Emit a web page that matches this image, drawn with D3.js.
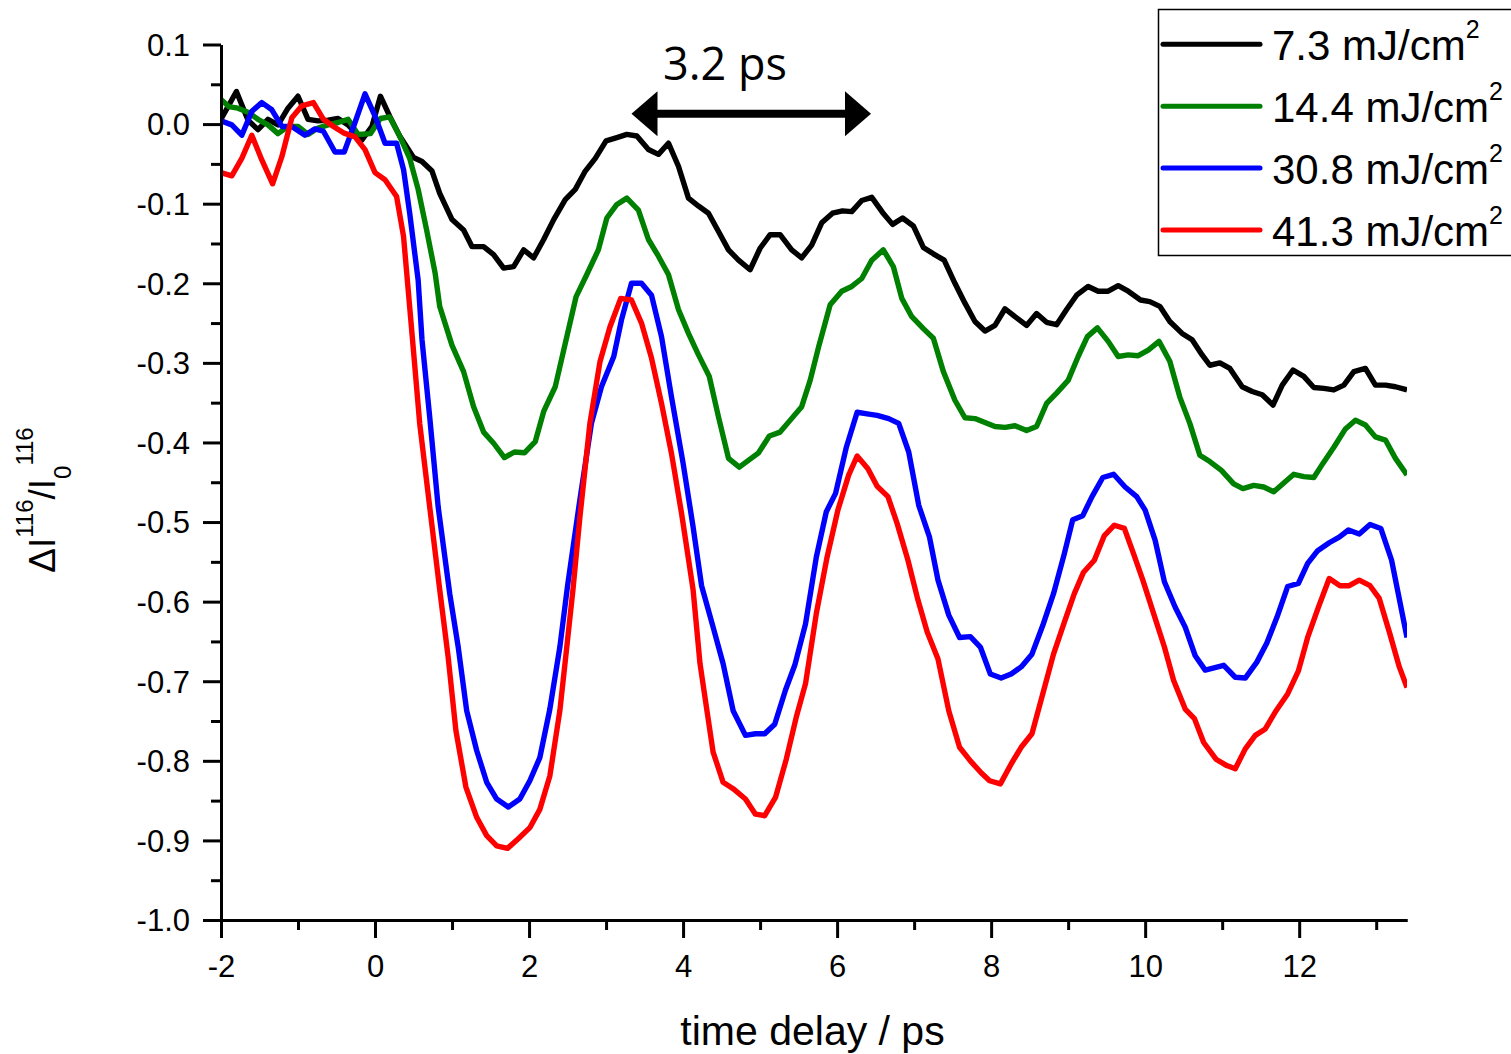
<!DOCTYPE html>
<html><head><meta charset="utf-8">
<script src="https://cdn.jsdelivr.net/npm/d3@7"></script>
<style>body{margin:0;background:#fff;} svg{display:block;}</style>
</head><body>
<script>
// ---- data (time delay in ps, ΔI/I0) ----
const blackT = [-2.00,-1.80,-1.65,-1.52,-1.39,-1.26,-1.13,-1.00,-0.87,-0.74,-0.61,-0.48,-0.35,-0.17,-0.04,0.07,0.19,0.32,0.50,0.61,0.74,0.84,1.00,1.15,1.26,1.41,1.54,1.67,1.80,1.93,2.06,2.19,2.32,2.47,2.60,2.73,2.86,3.00,3.14,3.27,3.40,3.55,3.68,3.81,3.94,4.07,4.20,4.33,4.46,4.59,4.72,4.87,5.00,5.13,5.26,5.41,5.54,5.67,5.80,5.94,6.07,6.19,6.32,6.45,6.59,6.72,6.85,6.99,7.12,7.25,7.39,7.53,7.66,7.79,7.92,8.05,8.18,8.31,8.46,8.59,8.72,8.85,8.98,9.11,9.26,9.39,9.52,9.65,9.78,9.94,10.06,10.19,10.32,10.48,10.61,10.74,10.84,10.97,11.10,11.26,11.39,11.52,11.66,11.78,11.92,12.06,12.19,12.32,12.45,12.58,12.71,12.86,12.99,13.12,13.25,13.40];
const blackY = [0.006,0.041,0.005,-0.007,0.006,-0.001,0.020,0.035,0.006,0.004,0.005,0.007,-0.001,-0.020,-0.003,0.035,0.010,-0.015,-0.042,-0.047,-0.059,-0.087,-0.120,-0.133,-0.154,-0.154,-0.164,-0.181,-0.179,-0.158,-0.168,-0.145,-0.120,-0.095,-0.082,-0.059,-0.043,-0.021,-0.017,-0.013,-0.015,-0.032,-0.038,-0.024,-0.053,-0.093,-0.103,-0.112,-0.135,-0.158,-0.171,-0.183,-0.156,-0.139,-0.139,-0.158,-0.168,-0.152,-0.124,-0.112,-0.109,-0.110,-0.096,-0.092,-0.111,-0.126,-0.118,-0.128,-0.155,-0.163,-0.171,-0.200,-0.225,-0.248,-0.260,-0.253,-0.232,-0.242,-0.253,-0.238,-0.249,-0.252,-0.233,-0.215,-0.204,-0.210,-0.210,-0.203,-0.210,-0.221,-0.223,-0.229,-0.248,-0.263,-0.271,-0.290,-0.303,-0.300,-0.307,-0.330,-0.336,-0.340,-0.353,-0.328,-0.309,-0.317,-0.331,-0.332,-0.334,-0.328,-0.311,-0.307,-0.328,-0.328,-0.330,-0.334];

const greenT = [-2.00,-1.90,-1.78,-1.65,-1.52,-1.39,-1.26,-1.13,-1.00,-0.87,-0.74,-0.61,-0.48,-0.35,-0.22,-0.06,0.07,0.19,0.32,0.45,0.56,0.67,0.78,0.84,1.00,1.15,1.28,1.41,1.54,1.68,1.81,1.94,2.08,2.19,2.34,2.45,2.61,2.75,2.90,3.01,3.14,3.27,3.42,3.55,3.68,3.81,3.94,4.07,4.20,4.34,4.46,4.59,4.73,4.87,4.98,5.12,5.26,5.40,5.54,5.65,5.76,5.91,6.06,6.19,6.32,6.45,6.60,6.73,6.84,6.97,7.12,7.25,7.38,7.53,7.66,7.79,7.92,8.05,8.18,8.31,8.46,8.59,8.72,8.85,9.00,9.13,9.25,9.38,9.52,9.65,9.78,9.91,10.04,10.18,10.32,10.45,10.58,10.71,10.84,10.99,11.15,11.27,11.41,11.54,11.67,11.80,11.93,12.06,12.19,12.31,12.45,12.60,12.73,12.86,12.99,13.12,13.25,13.40];
const greenY = [0.031,0.022,0.020,0.015,0.006,-0.001,-0.012,-0.003,-0.003,-0.013,-0.005,-0.001,0.002,0.006,-0.013,-0.012,0.007,0.009,-0.015,-0.043,-0.082,-0.133,-0.187,-0.229,-0.278,-0.311,-0.355,-0.387,-0.401,-0.419,-0.412,-0.413,-0.399,-0.361,-0.330,-0.284,-0.217,-0.189,-0.158,-0.118,-0.101,-0.093,-0.108,-0.145,-0.166,-0.189,-0.233,-0.263,-0.290,-0.317,-0.368,-0.420,-0.431,-0.421,-0.413,-0.392,-0.387,-0.371,-0.355,-0.322,-0.280,-0.227,-0.210,-0.204,-0.194,-0.171,-0.158,-0.179,-0.219,-0.242,-0.257,-0.269,-0.311,-0.347,-0.369,-0.370,-0.375,-0.380,-0.381,-0.379,-0.385,-0.380,-0.351,-0.338,-0.322,-0.292,-0.267,-0.256,-0.273,-0.292,-0.290,-0.291,-0.284,-0.273,-0.298,-0.343,-0.376,-0.416,-0.424,-0.435,-0.452,-0.458,-0.454,-0.456,-0.462,-0.451,-0.440,-0.443,-0.444,-0.426,-0.406,-0.383,-0.372,-0.378,-0.393,-0.397,-0.420,-0.441];

const blueT = [-2.00,-1.86,-1.73,-1.60,-1.47,-1.34,-1.21,-1.08,-0.91,-0.78,-0.67,-0.52,-0.40,-0.26,-0.13,0.00,0.13,0.28,0.37,0.45,0.56,0.61,0.71,0.82,0.97,1.08,1.19,1.32,1.45,1.58,1.73,1.88,2.01,2.14,2.27,2.40,2.50,2.66,2.81,2.94,3.10,3.20,3.33,3.46,3.59,3.72,3.85,4.00,4.13,4.24,4.39,4.52,4.65,4.81,4.94,5.06,5.19,5.33,5.45,5.59,5.73,5.86,5.98,6.12,6.26,6.39,6.52,6.67,6.80,6.93,7.06,7.20,7.31,7.45,7.59,7.73,7.86,7.99,8.13,8.26,8.39,8.53,8.67,8.81,8.95,9.06,9.19,9.31,9.45,9.59,9.74,9.89,10.00,10.13,10.25,10.39,10.52,10.65,10.78,11.02,11.17,11.30,11.45,11.58,11.71,11.85,11.99,12.11,12.24,12.39,12.52,12.64,12.78,12.92,13.06,13.20,13.40];
const blueY = [0.004,-0.001,-0.014,0.016,0.027,0.018,-0.003,-0.003,-0.014,-0.006,-0.009,-0.035,-0.035,0.002,0.038,0.010,-0.024,-0.024,-0.057,-0.112,-0.196,-0.271,-0.368,-0.481,-0.590,-0.657,-0.737,-0.787,-0.827,-0.848,-0.858,-0.848,-0.825,-0.796,-0.735,-0.657,-0.580,-0.472,-0.376,-0.330,-0.292,-0.246,-0.200,-0.200,-0.215,-0.267,-0.343,-0.426,-0.506,-0.580,-0.632,-0.678,-0.737,-0.768,-0.766,-0.766,-0.754,-0.711,-0.680,-0.628,-0.544,-0.487,-0.464,-0.406,-0.362,-0.364,-0.366,-0.370,-0.376,-0.412,-0.479,-0.519,-0.573,-0.617,-0.645,-0.644,-0.657,-0.691,-0.696,-0.691,-0.682,-0.666,-0.630,-0.590,-0.540,-0.497,-0.492,-0.468,-0.444,-0.440,-0.456,-0.468,-0.485,-0.523,-0.575,-0.607,-0.632,-0.668,-0.686,-0.680,-0.695,-0.696,-0.676,-0.652,-0.620,-0.581,-0.577,-0.552,-0.536,-0.526,-0.519,-0.510,-0.515,-0.503,-0.508,-0.548,-0.645];

const redT = [-2.00,-1.86,-1.73,-1.60,-1.47,-1.33,-1.21,-1.08,-0.95,-0.80,-0.67,-0.54,-0.41,-0.26,-0.13,0.00,0.13,0.28,0.37,0.48,0.58,0.71,0.84,0.95,1.05,1.18,1.32,1.45,1.58,1.72,1.86,2.01,2.14,2.27,2.40,2.49,2.57,2.66,2.79,2.92,3.05,3.19,3.33,3.46,3.59,3.72,3.85,3.98,4.13,4.22,4.31,4.39,4.52,4.65,4.81,4.94,5.06,5.20,5.34,5.47,5.59,5.73,5.87,6.01,6.15,6.26,6.40,6.52,6.66,6.78,6.92,7.05,7.17,7.31,7.45,7.59,7.73,7.87,7.98,8.12,8.26,8.39,8.53,8.67,8.81,8.95,9.08,9.20,9.34,9.47,9.60,9.73,9.85,9.97,10.11,10.25,10.37,10.52,10.64,10.76,10.92,11.06,11.17,11.30,11.43,11.56,11.70,11.85,11.99,12.11,12.25,12.39,12.53,12.65,12.78,12.92,13.04,13.17,13.30,13.40];
const redY = [-0.061,-0.065,-0.043,-0.014,-0.045,-0.075,-0.041,0.008,0.023,0.027,0.006,-0.003,-0.011,-0.016,-0.032,-0.061,-0.070,-0.091,-0.141,-0.263,-0.376,-0.481,-0.585,-0.670,-0.762,-0.833,-0.871,-0.894,-0.907,-0.910,-0.898,-0.884,-0.861,-0.819,-0.737,-0.657,-0.585,-0.494,-0.376,-0.299,-0.255,-0.219,-0.221,-0.250,-0.294,-0.351,-0.414,-0.489,-0.585,-0.678,-0.737,-0.789,-0.827,-0.835,-0.848,-0.867,-0.869,-0.846,-0.798,-0.745,-0.703,-0.615,-0.544,-0.485,-0.441,-0.417,-0.433,-0.455,-0.468,-0.502,-0.548,-0.598,-0.638,-0.672,-0.737,-0.783,-0.800,-0.815,-0.825,-0.829,-0.804,-0.783,-0.766,-0.716,-0.666,-0.626,-0.590,-0.563,-0.548,-0.517,-0.504,-0.508,-0.540,-0.573,-0.615,-0.657,-0.699,-0.735,-0.747,-0.777,-0.798,-0.806,-0.810,-0.785,-0.768,-0.760,-0.737,-0.716,-0.687,-0.645,-0.607,-0.571,-0.580,-0.580,-0.573,-0.580,-0.596,-0.638,-0.682,-0.708];

const seriesLabels = ["7.3 mJ/cm", "14.4 mJ/cm", "30.8 mJ/cm", "41.3 mJ/cm"];
const seriesColors = ["#000000", "#008000", "#0000ff", "#ff0000"];
const xMajorTicks = [-2, 0, 2, 4, 6, 8, 10, 12];
const xMinorTicks = [-1, 1, 3, 5, 7, 9, 11, 13];
const yMajorTicks = [0.1, 0.0, -0.1, -0.2, -0.3, -0.4, -0.5, -0.6, -0.7, -0.8, -0.9, -1.0];
const yTickLabels = ["0.1", "0.0", "-0.1", "-0.2", "-0.3", "-0.4", "-0.5", "-0.6", "-0.7", "-0.8", "-0.9", "-1.0"];
const yMinorTicks = [0.05, -0.05, -0.15, -0.25, -0.35, -0.45, -0.55, -0.65, -0.75, -0.85, -0.95];
const arrowT = [3.33, 6.44];
const arrowY = 0.013;
const arrowLabel = "3.2 ps";

// ---- drawing ----
const W = 1511, H = 1054;
const FONT = "'Liberation Sans', Arial, sans-serif";
const svg = d3.select("body").append("svg").attr("width", W).attr("height", H)
  .style("background", "#fff");

const x = d3.scaleLinear().domain([-2, 13.4]).range([221, 1407]);
const y = d3.scaleLinear().domain([-1.0, 0.1]).range([920, 44.5]);

svg.append("defs").append("clipPath").attr("id", "plotclip")
  .append("rect").attr("x", x(-2)).attr("y", 0).attr("width", x(13.4) - x(-2)).attr("height", y(-1.0));

// series
const seriesT = [blackT, greenT, blueT, redT];
const seriesY = [blackY, greenY, blueY, redY];
const line = d3.line().x(d => x(d[0])).y(d => y(d[1]));
const gLines = svg.append("g").attr("clip-path", "url(#plotclip)");
seriesT.forEach((ts, i) => {
  const pts = ts.map((t, j) => [t, seriesY[i][j]]);
  gLines.append("path").datum(pts).attr("d", line)
    .attr("fill", "none").attr("stroke", seriesColors[i])
    .attr("stroke-width", 5.4).attr("stroke-linejoin", "round");
});

// axes
function styleAxis(g) {
  g.selectAll("path.domain").attr("stroke", "#000").attr("stroke-width", 3);
  g.selectAll(".tick line").attr("stroke", "#000").attr("stroke-width", 3);
  g.selectAll("text").attr("fill", "#000").style("font-family", FONT).style("font-size", "31px");
}
const gxMinor = svg.append("g").attr("transform", `translate(0,${y(-1.0)})`)
  .call(d3.axisBottom(x).tickValues(xMinorTicks).tickSize(10).tickSizeOuter(0).tickFormat(() => ""));
styleAxis(gxMinor);
const gx = svg.append("g").attr("transform", `translate(0,${y(-1.0)})`)
  .call(d3.axisBottom(x).tickValues(xMajorTicks).tickSize(18).tickSizeOuter(0).tickPadding(17)
    .tickFormat(d => String(d)));
styleAxis(gx);

const gyMinor = svg.append("g").attr("transform", `translate(${x(-2)},0)`)
  .call(d3.axisLeft(y).tickValues(yMinorTicks).tickSize(10).tickSizeOuter(0).tickFormat(() => ""));
styleAxis(gyMinor);
const gy = svg.append("g").attr("transform", `translate(${x(-2)},0)`)
  .call(d3.axisLeft(y).tickValues(yMajorTicks).tickSize(18).tickSizeOuter(0).tickPadding(13)
    .tickFormat((d, i) => yTickLabels[i]));
styleAxis(gy);
gy.selectAll("text").attr("dy", "0.35em");

// axis titles
svg.append("text").attr("x", 812.5).attr("y", 1045).attr("text-anchor", "middle")
  .style("font-family", FONT).style("font-size", "41px").attr("fill", "#000")
  .text("time delay / ps");

const yt = svg.append("text").attr("transform", "translate(55,500) rotate(-90)")
  .attr("text-anchor", "middle").style("font-family", FONT).style("font-size", "37px").attr("fill", "#000");
yt.append("tspan").text("\u0394I");
yt.append("tspan").attr("dy", -22).style("font-size", "24px").text("116");
yt.append("tspan").attr("dy", 22).text("/I");
yt.append("tspan").attr("dy", 16).style("font-size", "24px").text("0");
yt.append("tspan").attr("dy", -38).style("font-size", "24px").text("116");

// annotation arrow
const ay = y(arrowY), ax0 = x(arrowT[0]), ax1 = x(arrowT[1]);
const headL = 26, headH = 22.5;
svg.append("line").attr("x1", ax0 + headL - 2).attr("x2", ax1 - headL + 2).attr("y1", ay).attr("y2", ay)
  .attr("stroke", "#000").attr("stroke-width", 8);
svg.append("path").attr("fill", "#000")
  .attr("d", `M${ax0},${ay} L${ax0 + headL},${ay - headH} L${ax0 + headL},${ay + headH} Z`);
svg.append("path").attr("fill", "#000")
  .attr("d", `M${ax1},${ay} L${ax1 - headL},${ay - headH} L${ax1 - headL},${ay + headH} Z`);
svg.append("text").attr("x", 663).attr("y", 80)
  .style("font-family", "'Open Sans', 'Noto Sans', sans-serif").style("font-size", "45px").attr("fill", "#000")
  .text(arrowLabel);

// legend
const lg = svg.append("g");
lg.append("rect").attr("x", 1158.5).attr("y", 9.5).attr("width", 420).attr("height", 246)
  .attr("fill", "#fff").attr("stroke", "#000").attr("stroke-width", 1.5);
seriesLabels.forEach((lab, i) => {
  const ly = 44.3 + i * 61.9;
  lg.append("line").attr("x1", 1163).attr("x2", 1260).attr("y1", ly).attr("y2", ly)
    .attr("stroke", seriesColors[i]).attr("stroke-width", 5).attr("stroke-linecap", "round");
  const t = lg.append("text").attr("x", 1272).attr("y", ly + 15.5)
    .style("font-family", FONT).style("font-size", "42px").attr("fill", "#000");
  t.append("tspan").text(lab);
  t.append("tspan").attr("dy", -22).style("font-size", "25px").text("2");
});
</script>
</body></html>
